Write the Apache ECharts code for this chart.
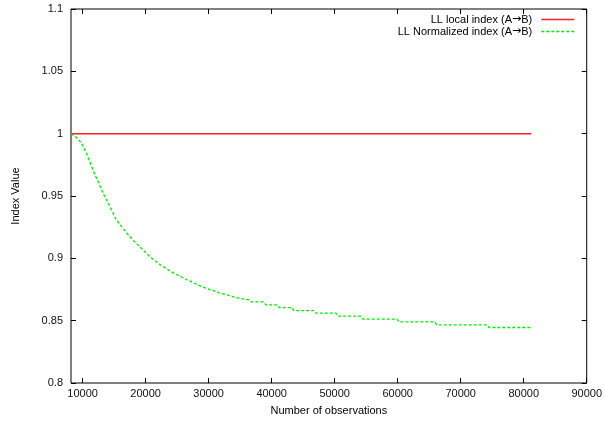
<!DOCTYPE html>
<html>
<head>
<meta charset="utf-8">
<title>LL index</title>
<script src="https://cdn.jsdelivr.net/npm/echarts@6/dist/echarts.min.js"></script>
<style>
  html, body { margin: 0; padding: 0; background: #fff; }
  #chart { width: 605px; height: 426px; }
</style>
</head>
<body>
<div id="chart"></div>
<script>
// ── Data ────────────────────────────────────────────────────────────────────
var xTicks = [10000, 20000, 30000, 40000, 50000, 60000, 70000, 80000, 90000];
var yTicks = [0.8, 0.85, 0.9, 0.95, 1, 1.05, 1.1];

var localX = [8150, 81200];
var localIdx = [1, 1];

var normX = [8150, 9000, 9800, 10800, 11600, 12400, 13200, 14200, 15300, 16400,
  17400, 18500, 19500, 20500, 22200, 24300, 26400, 29000, 31600, 34300, 36400,
  36800, 38700, 39100, 40900, 41200, 43200, 43500, 46700, 47000, 50200, 50500,
  54100, 54500, 59900, 60200, 65900, 66200, 74200, 74500, 81200];
var normIdx = [1, 0.997, 0.9926, 0.982, 0.9712, 0.962, 0.9526, 0.943, 0.9312, 0.924,
  0.9179, 0.912, 0.9072, 0.902, 0.8952, 0.8885, 0.8832, 0.877, 0.8725, 0.8686, 0.8666,
  0.865, 0.865, 0.8626, 0.8626, 0.8605, 0.8605, 0.8581, 0.8581, 0.856, 0.856, 0.8536,
  0.8536, 0.8512, 0.8512, 0.849, 0.849, 0.8466, 0.8466, 0.8445, 0.8445];

function zip(xs, ys) {
  return xs.map(function (x, i) { return [x, ys[i]]; });
}

var FONT = 'Liberation Sans, Arial, sans-serif';
var X_MIN = 8150, X_MAX = 90000;
var RED = '#ff2020', GREEN = '#00ee00';

var chart = echarts.init(document.getElementById('chart'), null, { renderer: 'canvas' });

// mirror ticks on top / right, like gnuplot's border tics
function tickOnly(pos, isX) {
  var ax = {
    type: 'value',
    position: pos,
    axisLine: { show: false },
    axisLabel: { show: false },
    splitLine: { show: false },
    axisTick: {
      show: true, inside: true, length: 5,
      lineStyle: { color: '#000', width: 1 },
      customValues: isX ? xTicks : yTicks
    }
  };
  if (isX) { ax.min = X_MIN; ax.max = X_MAX; } else { ax.min = 0.8; ax.max = 1.1; }
  return ax;
}

chart.setOption({
  backgroundColor: '#fff',
  animation: false,
  grid: {
    left: 71, right: 16, top: 9, bottom: 43,
    show: true, borderColor: '#000', borderWidth: 1, backgroundColor: 'transparent'
  },
  legend: {
    orient: 'vertical',
    right: 30,
    top: 14,
    padding: 0,
    align: 'right',
    itemWidth: 33,
    itemHeight: 12,
    itemGap: 1,
    itemStyle: { opacity: 0 },
    formatter: function (name) { return name.replace('\u2192', '{ar|\u2192}'); },
    textStyle: {
      fontFamily: FONT, fontSize: 11, color: '#000', padding: [0, 4, 0, 0],
      rich: { ar: { fontFamily: 'DejaVu Sans', fontSize: 11, color: '#000' } }
    },
    data: [
      { name: 'LL local index (A\u2192B)', lineStyle: { width: 1.5, color: RED } },
      { name: 'LL Normalized index (A\u2192B)', lineStyle: { width: 1.3, color: GREEN, type: [3, 2] } }
    ]
  },
  xAxis: [{
    type: 'value',
    min: X_MIN, max: X_MAX,
    name: 'Number of observations',
    nameLocation: 'middle',
    nameGap: 22,
    nameTextStyle: { fontFamily: FONT, fontSize: 11, color: '#000' },
    axisLine: { show: false },
    splitLine: { show: false },
    axisTick: {
      show: true, inside: true, length: 5,
      lineStyle: { color: '#000' },
      customValues: xTicks
    },
    axisLabel: {
      fontFamily: FONT, fontSize: 11, color: '#111', margin: 5,
      customValues: xTicks,
      formatter: function (v) { return String(v); }
    }
  }, tickOnly('top', true)],
  yAxis: [{
    type: 'value',
    min: 0.8, max: 1.1, interval: 0.05,
    name: 'Index Value',
    nameLocation: 'middle',
    nameGap: 50,
    nameRotate: 90,
    nameTextStyle: { fontFamily: FONT, fontSize: 11, color: '#000' },
    axisLine: { show: false },
    splitLine: { show: false },
    axisTick: { show: true, inside: true, length: 5, lineStyle: { color: '#000' } },
    axisLabel: {
      fontFamily: FONT, fontSize: 11, color: '#111', margin: 8,
      formatter: function (v) { return String(parseFloat(v.toFixed(2))); }
    }
  }, tickOnly('right', false)],
  series: [{
    name: 'LL local index (A\u2192B)',
    type: 'line',
    data: zip(localX, localIdx),
    symbol: 'none',
    lineStyle: { color: RED, width: 1.5 },
    itemStyle: { color: RED }
  }, {
    name: 'LL Normalized index (A\u2192B)',
    type: 'line',
    data: zip(normX, normIdx),
    symbol: 'none',
    lineStyle: { color: GREEN, width: 1.3, type: [3, 2] },
    itemStyle: { color: GREEN }
  }]
});
</script>
</body>
</html>
